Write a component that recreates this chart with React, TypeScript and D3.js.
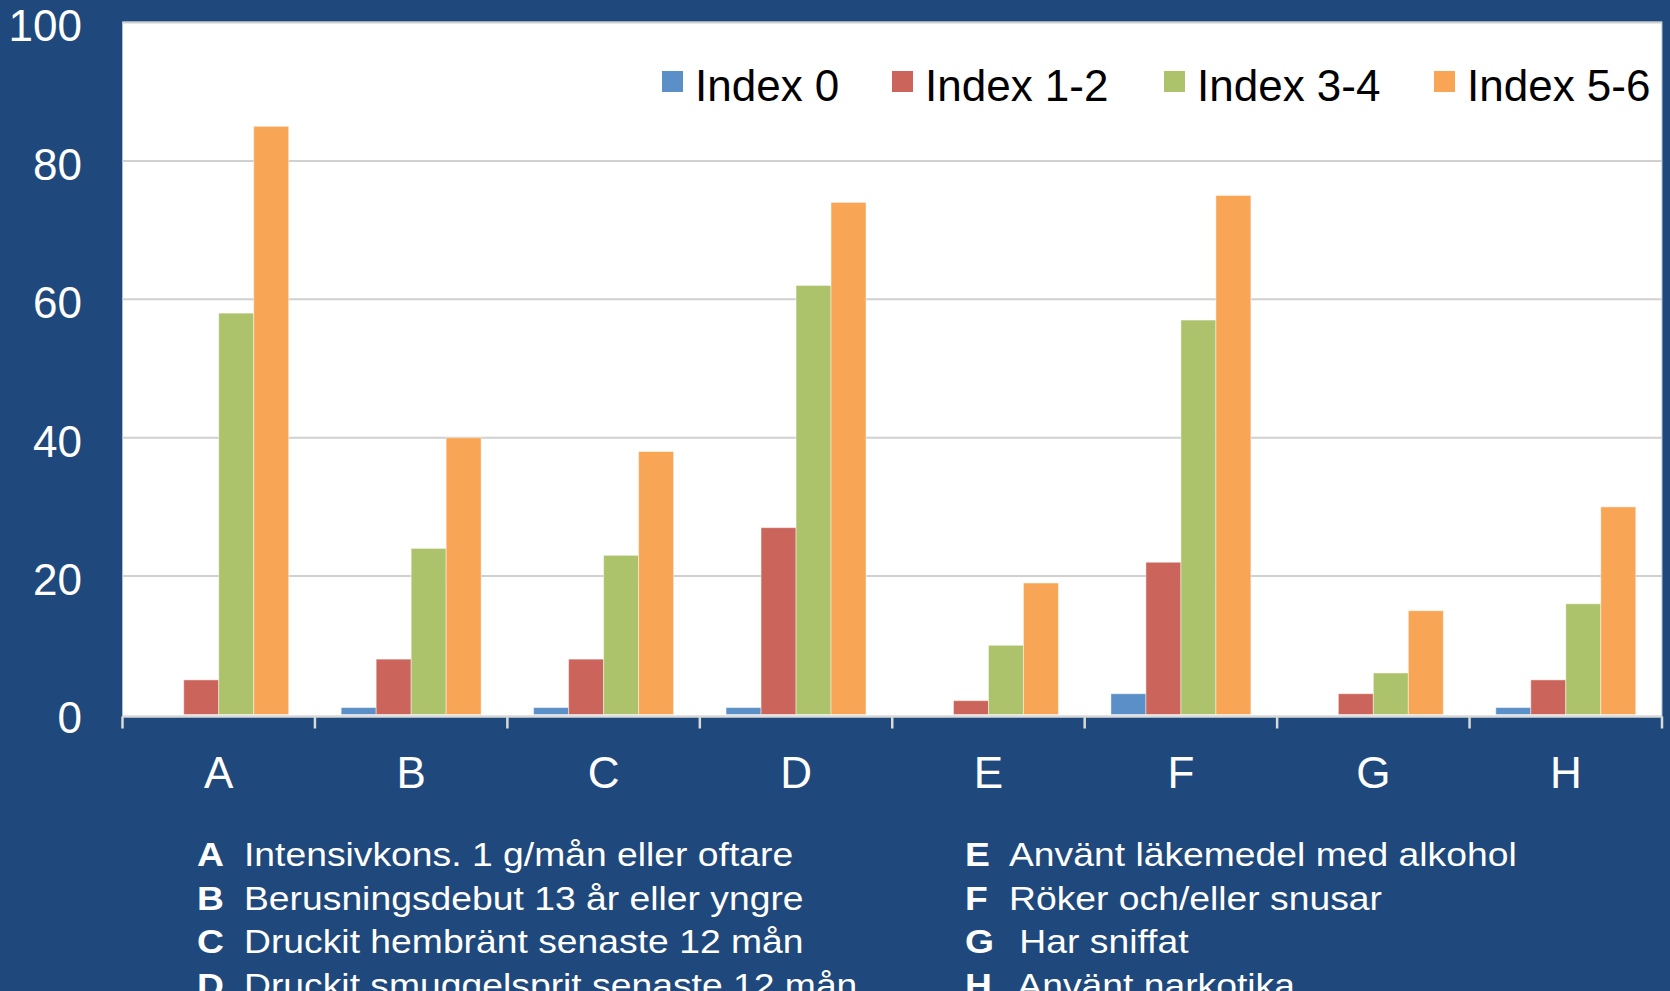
import React from 'react';
import * as d3 from 'd3';

const categories = ['A', 'B', 'C', 'D', 'E', 'F', 'G', 'H'];
const seriesNames = ['Index 0', 'Index 1-2', 'Index 3-4', 'Index 5-6'];
const index0 = [0, 1, 1, 1, 0, 3, 0, 1];
const index12 = [5, 8, 8, 27, 2, 22, 3, 5];
const index34 = [58, 24, 23, 62, 10, 57, 6, 16];
const index56 = [85, 40, 38, 74, 19, 75, 15, 30];
const yTicks = [0, 20, 40, 60, 80, 100];
const notesLeft = [
  ['A', 'Intensivkons. 1 g/mån eller oftare'],
  ['B', 'Berusningsdebut 13 år eller yngre'],
  ['C', 'Druckit hembränt senaste 12 mån'],
  ['D', 'Druckit smuggelsprit senaste 12 mån'],
];
const notesRight = [
  ['E', 'Använt läkemedel med alkohol'],
  ['F', 'Röker och/eller snusar'],
  ['G', ' Har sniffat'],
  ['H', ' Använt narkotika'],
];

const colors = ['#5b8fc7', '#cb645a', '#acc36b', '#f8a656'];
const values = [index0, index12, index34, index56];

const W = 1670;
const H = 991;
const font = '"Liberation Sans", Arial, sans-serif';

const App: React.FC = () => {
  const plotLeft = 122.5;
  const plotRight = 1662;
  const plotTop = 22;
  const y0 = 714.5;

  const x = d3.scaleBand<string>().domain(categories).range([plotLeft, plotRight]);
  const xInner = d3
    .scaleBand<string>()
    .domain(seriesNames)
    .range([0, x.bandwidth()])
    .paddingInner(0)
    .paddingOuter(0.75);
  const y = d3.scaleLinear().domain([0, 100]).range([y0, plotTop + 0.5]);

  const legendX = [662, 892, 1164, 1434];
  const noteStretch = 1.13;

  return (
    <svg
      width={W}
      height={H}
      style={{ position: 'absolute', left: 0, top: 0, display: 'block' }}
    >
      <rect x={0} y={0} width={W} height={H} fill="#1f497c" />
      <rect
        x={plotLeft}
        y={plotTop}
        width={plotRight - plotLeft}
        height={y0 - plotTop + 2}
        fill="#ffffff"
        stroke="#aebdd0"
        strokeWidth={1}
      />
      {yTicks.slice(1).map((t) => (
        <line
          key={'g' + t}
          x1={plotLeft}
          x2={plotRight}
          y1={y(t)}
          y2={y(t)}
          stroke="#d0d0d0"
          strokeWidth={2}
        />
      ))}
      {categories.map((c, ci) => (
        <g key={c} transform={`translate(${x(c)},0)`}>
          {seriesNames.map((s, si) => {
            const v = values[si][ci];
            if (!v) return null;
            return (
              <rect
                key={s}
                x={xInner(s)}
                y={y(v)}
                width={xInner.bandwidth()}
                height={y0 - y(v)}
                fill={colors[si]}
                stroke="#ffffff"
                strokeOpacity={0.45}
                strokeWidth={1}
              />
            );
          })}
        </g>
      ))}
      {/* x axis */}
      <line x1={plotLeft} x2={plotRight} y1={y0 + 2} y2={y0 + 2} stroke="#d9d9d9" strokeWidth={2.5} />
      {[...categories, 'end'].map((c, i) => {
        const tx = i < categories.length ? (x(c) as number) : plotRight;
        return (
          <line key={'t' + i} x1={tx} x2={tx} y1={y0 + 2} y2={y0 + 14} stroke="#d9d9d9" strokeWidth={2.5} />
        );
      })}
      {categories.map((c) => (
        <text
          key={'l' + c}
          x={(x(c) as number) + x.bandwidth() / 2}
          y={788}
          fill="#ffffff"
          fontFamily={font}
          fontSize={44}
          textAnchor="middle"
        >
          {c}
        </text>
      ))}
      {/* y labels */}
      {yTicks.map((t) => (
        <text
          key={'y' + t}
          x={82}
          y={y(t)}
          dy="0.43em"
          fill="#ffffff"
          fontFamily={font}
          fontSize={44}
          textAnchor="end"
        >
          {t}
        </text>
      ))}
      {/* legend */}
      {seriesNames.map((s, i) => (
        <g key={'lg' + s}>
          <rect x={legendX[i]} y={71} width={21} height={21} fill={colors[i]} />
          <text x={legendX[i] + 33} y={101} fontFamily={font} fontSize={44} fill="#000000">
            {s}
          </text>
        </g>
      ))}
      {/* notes */}
      {[
        { items: notesLeft, x0: 197, tx: 47 },
        { items: notesRight, x0: 965, tx: 44 },
      ].map((col, ci) => (
        <g key={'n' + ci} transform={`translate(${col.x0},0) scale(${noteStretch},1)`}>
          {col.items.map(([k, label], i) => (
            <text key={k} y={866 + i * 43.6} fontFamily={font} fontSize={33} fill="#ffffff">
              <tspan x={0} fontWeight="bold">
                {k}
              </tspan>
              <tspan x={col.tx / noteStretch} style={{ whiteSpace: 'pre' }}>
                {label}
              </tspan>
            </text>
          ))}
        </g>
      ))}
    </svg>
  );
};

export default App;
